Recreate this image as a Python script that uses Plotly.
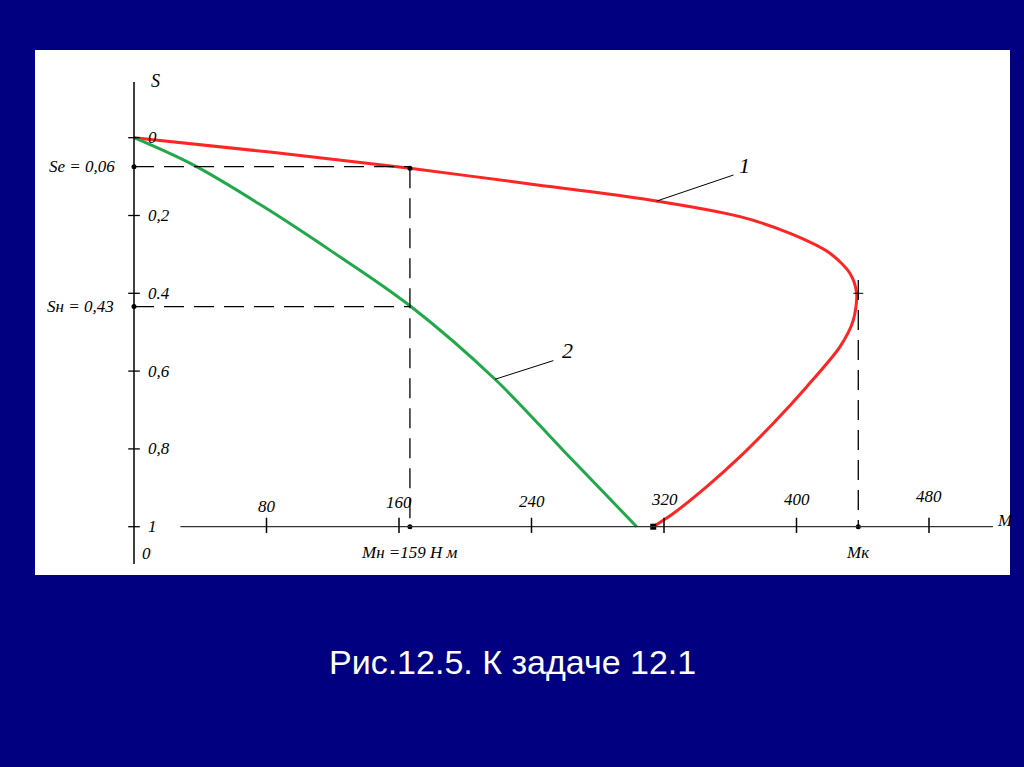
import plotly.graph_objects as go

# ---- data ----
red_M = [0, 82, 166.6, 239, 311.5, 365.9, 396.1, 420.2, 432.3, 436.3, 434.3, 426.3, 406.2, 386.0, 365.9, 345.8, 325.6, 313.5]
red_s = [0, 0.037, 0.0787, 0.119, 0.160, 0.203, 0.246, 0.297, 0.349, 0.400, 0.469, 0.537, 0.640, 0.734, 0.820, 0.897, 0.966, 1.0]
green_M = [0, 35.8, 78.1, 118.3, 166.6, 218.0, 259.2, 303.5]
green_s = [0, 0.070, 0.177, 0.289, 0.432, 0.621, 0.804, 1.0]

x_ticks = [80, 160, 240, 320, 400, 480]
x_tick_labels = ["80", "160", "240", "320", "400", "480"]
y_ticks = [0, 0.2, 0.4, 0.6, 0.8, 1]
y_tick_labels = ["0", "0,2", "0.4", "0,6", "0,8", "1"]

s_e = 0.0746          # Se line (drawn position)
s_n = 0.434           # Sн line (drawn position)
M_n = 166.6           # Mн line (drawn position)
M_k = 437.3           # Mк line (drawn position)
s_k_top = 0.366
red_end_M = 313.5

leader1 = [(315.5, 0.163), (361.9, 0.096)]
leader2 = [(218.0, 0.621), (253.2, 0.573)]
label1_pos = (368.5, 0.072)
label2_pos = (261.5, 0.548)

# layout positions of the x tick labels (they sit slightly higher to the right)
x_label_y = [0.949, 0.939, 0.936, 0.931, 0.929, 0.923]

NAVY = "#000080"
RED = "#ff2525"
GREEN = "#22a84a"
SERIF = dict(family="Liberation Serif", size=17, color="black", style="italic")

# pixel mapping: x_px = 134 + M*1.65625, y_px = 137.7 + s*389
PX_M = 1.65625
PX_S = 389.0
x0_px, y0_px = 134.0, 137.7
xr = [-x0_px / PX_M, (1024 - x0_px) / PX_M]
yr = [(767 - y0_px) / PX_S, -y0_px / PX_S]

fig = go.Figure()

# curves
fig.add_trace(go.Scatter(x=red_M, y=red_s, mode="lines", line=dict(color=RED, width=3, shape="spline", smoothing=0.8), hoverinfo="skip"))
fig.add_trace(go.Scatter(x=green_M, y=green_s, mode="lines", line=dict(color=GREEN, width=3, shape="spline", smoothing=1.0), hoverinfo="skip"))

shapes = []
# white panel
shapes.append(dict(type="rect", xref="paper", yref="paper", x0=35/1024, x1=1010/1024, y0=1-575/767, y1=1-50/767,
                   fillcolor="white", line=dict(width=0), layer="below"))
# axes
shapes.append(dict(type="line", x0=0, x1=0, y0=-0.143, y1=1.096, line=dict(color="black", width=1.5)))
shapes.append(dict(type="line", x0=28, x1=518.6, y0=1, y1=1, line=dict(color="#333", width=1.2)))
# y ticks
for v in y_ticks:
    shapes.append(dict(type="line", x0=-3.5, x1=3.5, y0=v, y1=v, line=dict(color="black", width=1.3)))
# x ticks
for v in x_ticks:
    shapes.append(dict(type="line", x0=v, x1=v, y0=0.977, y1=1.016, line=dict(color="black", width=1.5)))

dash = "20px,10px"
shapes.append(dict(type="line", x0=0, x1=M_n, y0=s_e, y1=s_e, line=dict(color="black", width=1.3, dash=dash)))
shapes.append(dict(type="line", x0=0, x1=M_n, y0=s_n, y1=s_n, line=dict(color="black", width=1.3, dash=dash)))
shapes.append(dict(type="line", x0=M_n, x1=M_n, y0=0.0787, y1=1, line=dict(color="black", width=1.3, dash=dash)))
shapes.append(dict(type="line", x0=M_k, x1=M_k, y0=s_k_top, y1=1, line=dict(color="black", width=1.3, dash=dash)))
shapes.append(dict(type="line", x0=M_k - 3, x1=M_k + 3, y0=0.400, y1=0.400, line=dict(color="black", width=1)))
# leaders
for (a, b) in (leader1, leader2):
    shapes.append(dict(type="line", x0=a[0], y0=a[1], x1=b[0], y1=b[1], line=dict(color="black", width=1)))

# dots
fig.add_trace(go.Scatter(x=[0, 0, M_n, M_k, M_n], y=[s_e, s_n, 1, 1, 0.0787], mode="markers",
                         marker=dict(color="black", size=5), hoverinfo="skip"))
fig.add_trace(go.Scatter(x=[red_end_M], y=[1], mode="markers",
                         marker=dict(color="black", size=6, symbol="square"), hoverinfo="skip"))

ann = []
for v, t in zip(y_ticks, y_tick_labels):
    ann.append(dict(x=7, y=v, text=t, showarrow=False, xanchor="left", yanchor="middle", font=SERIF))
for v, t, yy in zip(x_ticks, x_tick_labels, x_label_y):
    ann.append(dict(x=v, y=yy, text=t, showarrow=False, xanchor="center", yanchor="middle", font=SERIF))
ann.append(dict(x=9, y=-0.145, text="S", showarrow=False, xanchor="left", yanchor="middle",
                font=dict(family="Liberation Serif", size=18, color="black", style="italic")))
ann.append(dict(x=520, y=0.985, text="M", showarrow=False, xanchor="left", yanchor="middle", font=SERIF))
ann.append(dict(x=3.5, y=1.07, text="0", showarrow=False, xanchor="left", yanchor="middle", font=SERIF))
ann.append(dict(x=-10, y=s_e, text="Se = 0,06", showarrow=False, xanchor="right", yanchor="middle", font=SERIF))
ann.append(dict(x=-11, y=s_n, text="Sн = 0,43", showarrow=False, xanchor="right", yanchor="middle", font=SERIF))
ann.append(dict(x=M_n, y=1.067, text="Mн =159 Н м", showarrow=False, xanchor="center", yanchor="middle", font=SERIF))
ann.append(dict(x=M_k, y=1.067, text="Mк", showarrow=False, xanchor="center", yanchor="middle", font=SERIF))
ann.append(dict(x=label1_pos[0], y=label1_pos[1], text="1", showarrow=False, xanchor="center", yanchor="middle",
                font=dict(family="Liberation Serif", size=22, color="black", style="italic")))
ann.append(dict(x=label2_pos[0], y=label2_pos[1], text="2", showarrow=False, xanchor="center", yanchor="middle",
                font=dict(family="Liberation Serif", size=22, color="black", style="italic")))
ann.append(dict(xref="paper", yref="paper", x=0.5, y=1 - 662/767, text="Рис.12.5. К задаче 12.1", showarrow=False,
                xanchor="center", yanchor="middle", font=dict(family="Liberation Sans", size=34, color="white")))

fig.update_layout(
    width=1024, height=767,
    margin=dict(l=0, r=0, t=0, b=0),
    paper_bgcolor=NAVY, plot_bgcolor=NAVY,
    showlegend=False,
    xaxis=dict(range=xr, visible=False, fixedrange=True),
    yaxis=dict(range=yr, visible=False, fixedrange=True),
    shapes=shapes, annotations=ann,
)

fig.write_html("out.html", config={"displayModeBar": False},
               post_script="document.body.style.margin='0';document.body.style.background='#000080';")
